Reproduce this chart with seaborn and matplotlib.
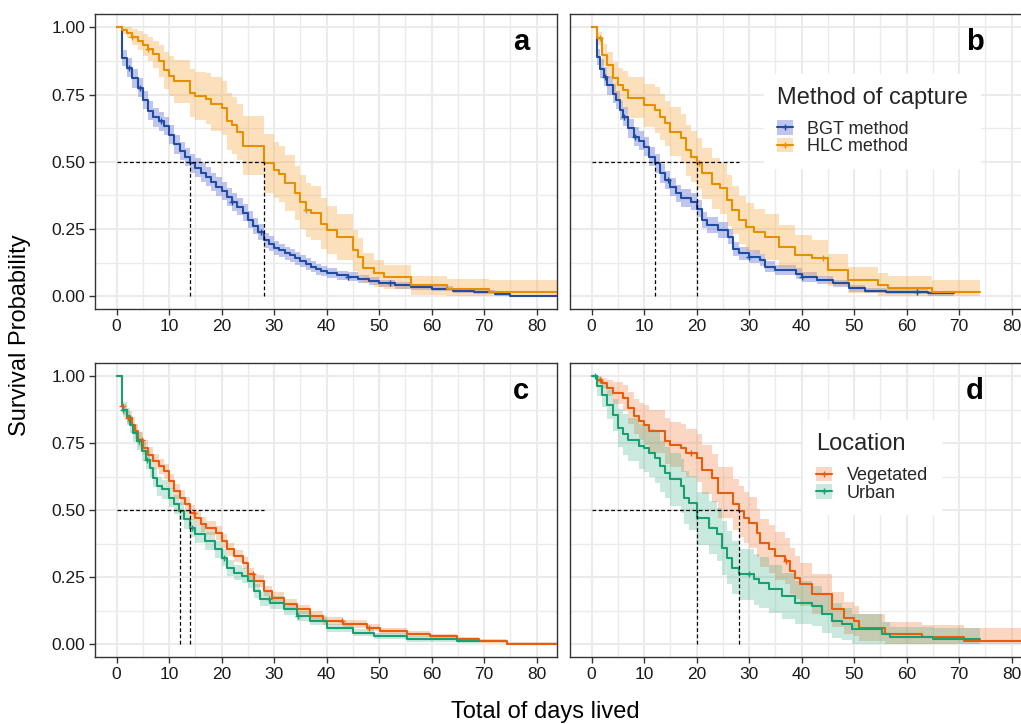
import numpy as np
import pandas as pd
import matplotlib
matplotlib.use('Agg')
import matplotlib.pyplot as plt
import seaborn as sns
from matplotlib.patches import Patch
from matplotlib.lines import Line2D
from matplotlib.legend_handler import HandlerTuple
from matplotlib.ticker import MultipleLocator, FormatStrFormatter

# ---- data (Kaplan-Meier steps) ----
# panel a : method of capture (first set)
bgt_a_t = [0, 1, 2, 3, 4, 5, 6, 7, 8, 9, 10, 11, 12, 13, 14, 15, 16, 17, 18, 19, 20,
           21, 22, 23, 24, 25, 26, 27, 28, 29, 30, 31, 32, 33, 34, 35, 36, 37, 38, 39,
           40, 42, 44, 46, 48, 50, 53, 56, 60, 64, 68, 72, 75]
bgt_a_s = [1.0, 0.885, 0.85, 0.81, 0.775, 0.73, 0.69, 0.665, 0.65, 0.633, 0.60, 0.565,
           0.54, 0.518, 0.494, 0.478, 0.46, 0.445, 0.425, 0.407, 0.39, 0.37, 0.35, 0.333,
           0.31, 0.285, 0.262, 0.24, 0.208, 0.195, 0.18, 0.17, 0.16, 0.152, 0.14, 0.13,
           0.12, 0.11, 0.10, 0.092, 0.086, 0.078, 0.072, 0.064, 0.056, 0.048, 0.04, 0.034,
           0.028, 0.02, 0.014, 0.008, 0.0]
bgt_a_hw = [0.0, 0.03, 0.035, 0.035, 0.035, 0.035, 0.035, 0.035, 0.035, 0.035, 0.035,
            0.035, 0.035, 0.035, 0.035, 0.035, 0.035, 0.035, 0.035, 0.035, 0.033, 0.033,
            0.033, 0.032, 0.032, 0.031, 0.03, 0.03, 0.028, 0.027, 0.026, 0.025, 0.024,
            0.024, 0.023, 0.022, 0.021, 0.02, 0.02, 0.019, 0.018, 0.017, 0.016, 0.015,
            0.014, 0.013, 0.012, 0.011, 0.01, 0.009, 0.008, 0.007, 0.005]
hlc_a_t = [0, 1, 2, 3, 4, 5, 6, 7, 8, 9, 10, 11, 14, 15, 17, 18, 20, 21, 22, 23, 24, 28,
           30, 31, 32, 34, 35, 36, 37, 39, 40, 42, 45, 46, 47, 49, 51, 56, 63, 71]
hlc_a_s = [1.0, 0.99, 0.98, 0.965, 0.95, 0.935, 0.92, 0.9, 0.875, 0.84, 0.82, 0.80, 0.755,
           0.745, 0.735, 0.715, 0.70, 0.65, 0.635, 0.61, 0.56, 0.495, 0.47, 0.455, 0.42,
           0.385, 0.35, 0.32, 0.31, 0.27, 0.245, 0.22, 0.17, 0.145, 0.105, 0.085, 0.07,
           0.04, 0.028, 0.016]
hlc_a_hw = [0.0, 0.015, 0.02, 0.03, 0.035, 0.04, 0.045, 0.05, 0.06, 0.07, 0.075, 0.08,
            0.09, 0.09, 0.095, 0.1, 0.1, 0.105, 0.105, 0.105, 0.11, 0.11, 0.105, 0.105,
            0.105, 0.1, 0.1, 0.1, 0.1, 0.095, 0.09, 0.085, 0.075, 0.07, 0.055, 0.05,
            0.045, 0.035, 0.035, 0.045]

# panel b : method of capture (second set)
bgt_b_t = [0, 1, 1.6, 2.4, 3, 4, 4.6, 5.4, 6, 7, 8, 9, 10, 11, 12, 13, 14, 15, 16, 17,
           19, 20, 21, 22, 24, 26, 27, 28, 30, 32, 33, 35, 39, 40, 43, 46, 49, 52, 56, 64]
bgt_b_s = [1.0, 0.891, 0.847, 0.816, 0.785, 0.754, 0.73, 0.692, 0.667, 0.624, 0.593,
           0.578, 0.556, 0.519, 0.494, 0.457, 0.432, 0.407, 0.382, 0.364, 0.351, 0.326,
           0.283, 0.264, 0.246, 0.221, 0.177, 0.159, 0.146, 0.134, 0.109, 0.097, 0.084,
           0.072, 0.06, 0.047, 0.029, 0.02, 0.016, 0.01]
bgt_b_hw = [0.0, 0.03, 0.035, 0.035, 0.035, 0.035, 0.035, 0.035, 0.035, 0.035, 0.035,
            0.035, 0.035, 0.035, 0.035, 0.035, 0.034, 0.034, 0.033, 0.033, 0.032, 0.031,
            0.03, 0.03, 0.029, 0.028, 0.026, 0.025, 0.024, 0.023, 0.021, 0.02, 0.019,
            0.018, 0.016, 0.014, 0.012, 0.01, 0.009, 0.008]
hlc_b_t = [0, 1, 2, 3, 4, 5, 6, 7, 10, 12, 13, 14, 15, 17, 18, 19, 20, 21, 23, 24.4,
           25.7, 26.7, 28, 29.5, 31, 33, 35.6, 38.7, 41.9, 45, 48.9, 54.6, 56.5, 64.8]
hlc_b_s = [1.0, 0.959, 0.897, 0.86, 0.81, 0.785, 0.767, 0.739, 0.711, 0.692, 0.667,
           0.643, 0.612, 0.587, 0.543, 0.519, 0.494, 0.457, 0.419, 0.401, 0.357, 0.32,
           0.283, 0.258, 0.24, 0.221, 0.184, 0.153, 0.14, 0.097, 0.06, 0.041, 0.029, 0.016]
hlc_b_hw = [0.0, 0.025, 0.04, 0.05, 0.06, 0.065, 0.07, 0.075, 0.08, 0.085, 0.085, 0.085,
            0.09, 0.09, 0.095, 0.095, 0.095, 0.095, 0.095, 0.095, 0.095, 0.09, 0.09,
            0.09, 0.085, 0.085, 0.08, 0.075, 0.07, 0.06, 0.05, 0.045, 0.045, 0.045]

# panel c : location (first set)
veg_c_t = [0, 1, 1.3, 2, 3, 3.5, 4, 5, 6, 7, 8, 9, 10, 11, 12, 13, 14, 15, 16, 17, 19,
           20, 21, 22.3, 24, 25.1, 26.1, 28, 29.6, 31.8, 34.3, 36.9, 39.4, 43.2, 47.7,
           50.2, 55.3, 59.7, 64.8, 69, 74.3]
veg_c_s = [1.0, 0.888, 0.876, 0.845, 0.82, 0.795, 0.764, 0.733, 0.708, 0.683, 0.665,
           0.646, 0.609, 0.571, 0.547, 0.522, 0.491, 0.472, 0.447, 0.435, 0.416, 0.385,
           0.354, 0.329, 0.304, 0.262, 0.236, 0.199, 0.174, 0.149, 0.13, 0.106, 0.087,
           0.075, 0.062, 0.05, 0.037, 0.029, 0.019, 0.012, 0.002]
veg_c_hw = [0.0, 0.02, 0.022, 0.025, 0.027, 0.028, 0.028, 0.028, 0.028, 0.028, 0.028,
            0.028, 0.028, 0.028, 0.028, 0.028, 0.028, 0.027, 0.027, 0.026, 0.026, 0.025,
            0.025, 0.024, 0.023, 0.022, 0.021, 0.02, 0.019, 0.018, 0.017, 0.016, 0.015,
            0.014, 0.013, 0.012, 0.011, 0.01, 0.009, 0.008, 0.006]
urb_c_t = [0, 1, 1.3, 2, 2.6, 3.2, 3.9, 4.8, 5.5, 6.4, 7, 7.7, 8.6, 9.9, 10.9, 11.8,
           12.8, 13.9, 15, 16.9, 18.8, 20, 21, 22.3, 23.9, 25.1, 26.1, 27.4, 29.3, 31.8,
           34.3, 36.9, 40, 45.1, 49, 55.3, 64.8]
urb_c_s = [1.0, 0.894, 0.876, 0.851, 0.82, 0.789, 0.758, 0.72, 0.689, 0.658, 0.621,
           0.59, 0.578, 0.547, 0.522, 0.497, 0.466, 0.435, 0.41, 0.385, 0.354, 0.323,
           0.286, 0.267, 0.255, 0.236, 0.199, 0.168, 0.155, 0.13, 0.106, 0.087, 0.062,
           0.043, 0.031, 0.019, 0.012]
urb_c_hw = [0.0, 0.025, 0.027, 0.03, 0.032, 0.033, 0.034, 0.035, 0.035, 0.035, 0.035,
            0.035, 0.035, 0.035, 0.035, 0.035, 0.035, 0.034, 0.034, 0.033, 0.032, 0.031,
            0.03, 0.029, 0.028, 0.027, 0.026, 0.025, 0.023, 0.021, 0.019, 0.017, 0.015,
            0.013, 0.011, 0.01, 0.008]

# panel d : location (second set)
veg_d_t = [0, 1, 2, 3, 4, 6, 7, 8, 9, 10, 11, 14, 15, 17, 18, 20, 21, 23, 24, 27, 28,
           29, 30, 31.5, 32.1, 33.7, 35, 36.9, 37.8, 38.8, 39.7, 42, 45.8, 48, 49.9, 50.9,
           55.9, 62.9, 70.9]
veg_d_s = [1.0, 0.988, 0.975, 0.957, 0.938, 0.919, 0.882, 0.851, 0.832, 0.82, 0.795,
           0.758, 0.745, 0.733, 0.714, 0.696, 0.652, 0.621, 0.565, 0.522, 0.497, 0.472,
           0.453, 0.416, 0.379, 0.354, 0.329, 0.311, 0.273, 0.248, 0.224, 0.186, 0.13,
           0.099, 0.087, 0.062, 0.037, 0.025, 0.012]
veg_d_hw = [0.0, 0.012, 0.02, 0.03, 0.04, 0.05, 0.06, 0.065, 0.07, 0.075, 0.08, 0.085,
            0.085, 0.09, 0.09, 0.09, 0.09, 0.09, 0.095, 0.095, 0.095, 0.095, 0.095, 0.09,
            0.09, 0.09, 0.09, 0.085, 0.085, 0.08, 0.08, 0.075, 0.065, 0.06, 0.055, 0.05,
            0.045, 0.045, 0.05]
urb_d_t = [0, 1, 2, 3, 4, 5, 6, 7, 9, 10, 11, 12, 13, 14, 15, 17, 17.5, 18.5, 20, 22.3,
           23.9, 24.8, 25.8, 26.7, 28, 30.9, 31.8, 33.7, 36.3, 38.8, 42, 43.9, 45.8, 47.7,
           49.6, 55.3, 56.9, 65.1]
urb_d_s = [1.0, 0.963, 0.932, 0.894, 0.857, 0.807, 0.783, 0.764, 0.739, 0.733, 0.714,
           0.696, 0.665, 0.64, 0.615, 0.59, 0.547, 0.528, 0.47, 0.435, 0.41, 0.36, 0.323,
           0.286, 0.261, 0.242, 0.23, 0.205, 0.18, 0.155, 0.143, 0.112, 0.087, 0.075,
           0.056, 0.037, 0.025, 0.019]
urb_d_hw = [0.0, 0.035, 0.045, 0.055, 0.06, 0.07, 0.075, 0.08, 0.085, 0.09, 0.09, 0.095,
            0.095, 0.095, 0.1, 0.1, 0.1, 0.1, 0.1, 0.1, 0.1, 0.1, 0.1, 0.1, 0.095, 0.095,
            0.095, 0.09, 0.085, 0.08, 0.075, 0.07, 0.065, 0.06, 0.055, 0.045, 0.04, 0.04]

# last time each curve is drawn to (end of follow-up / panel edge)
end_a = [86, 86]
end_b = [69, 74]
end_c = [86, 69]
end_d = [86, 74]

# median survival times (dashed guides) and where horizontal guide stops
med_a = [14, 28]
med_b = [12, 20]
med_c = [12, 14]
med_d = [20, 28]
guide_end = 28

# censor marks (times)
cens_bgt_a = [2.4, 4.5, 8.5, 22, 27.5, 44, 52]
cens_hlc_a = [3, 6, 36]
cens_bgt_b = [2.5, 6.2, 8.2, 14.5, 30, 40, 62]
cens_hlc_b = [1.5, 20.5, 44]
cens_veg_c = [1.0, 2.2, 4.8, 14.7, 26, 43, 48]
cens_urb_c = [1.3, 4.3, 5.7, 14.3, 20.5, 29, 34.5]
cens_veg_d = [1.5, 19, 37]
cens_urb_d = [0.6, 30]

method_labels = ['BGT method', 'HLC method']
location_labels = ['Vegetated', 'Urban']
panel_letters = ['a', 'b', 'c', 'd']

col_bgt, fill_bgt = '#1f4ea0', '#6070d8'
col_hlc, fill_hlc = '#e69000', '#f8a840'
col_veg, fill_veg = '#e85d0c', '#f27a35'
col_urb, fill_urb = '#17a070', '#2aaa7c'

sns.set_theme(style='white')
plt.rcParams['font.family'] = ['Liberation Sans', 'DejaVu Sans']

fig = plt.figure(figsize=(10.21, 7.24), dpi=100)
W, H = 1021, 724


def ax_at(x0, y0, x1, y1):
    return fig.add_axes([x0 / W, 1 - y1 / H, (x1 - x0) / W, (y1 - y0) / H])


axes = [ax_at(95, 14, 557, 309), ax_at(570, 14, 1032, 309),
        ax_at(95, 363, 557, 657), ax_at(570, 363, 1032, 657)]


def km_curve(ax, t, s, hw, t_end, cens, line, fill, alpha):
    t = list(t) + [t_end]
    s = list(s) + [s[-1]]
    hw = list(hw) + [hw[-1]]
    df = pd.DataFrame({'time': t, 'surv': s})
    df['lower'] = np.clip(df['surv'] - np.array(hw), 0, 1)
    df['upper'] = np.clip(df['surv'] + np.array(hw), 0, 1)
    ax.fill_between(df['time'], df['lower'], df['upper'], step='post',
                    color=fill, alpha=alpha, linewidth=0, zorder=2)
    sns.lineplot(data=df, x='time', y='surv', drawstyle='steps-post', color=line,
                 linewidth=1.5, ax=ax, zorder=3, estimator=None)
    idx = np.searchsorted(df['time'].values, cens, side='right') - 1
    ax.plot(cens, df['surv'].values[idx], linestyle='none', marker='+',
            markersize=5, markeredgewidth=1.0, color=line, zorder=4)


def style(ax, show_y):
    ax.set_xlim(-4.13, 83.9)
    ax.set_ylim(-0.048, 1.05)
    ax.xaxis.set_major_locator(MultipleLocator(10))
    ax.xaxis.set_minor_locator(MultipleLocator(5))
    ax.yaxis.set_major_locator(MultipleLocator(0.25))
    ax.yaxis.set_minor_locator(MultipleLocator(0.125))
    ax.yaxis.set_major_formatter(FormatStrFormatter('%.2f'))
    ax.grid(which='major', color='#ebebeb', linewidth=1.5, zorder=0)
    ax.grid(which='minor', color='#ebebeb', linewidth=1.0, zorder=0)
    ax.set_axisbelow(True)
    ax.tick_params(which='major', length=4, width=1, color='#333333',
                   labelsize=12.5, labelcolor='#1a1a1a', pad=3,
                   bottom=True, left=show_y, labelleft=show_y)
    ax.tick_params(which='minor', length=0)
    for sp in ax.spines.values():
        sp.set_color('#333333')
        sp.set_linewidth(1.0)
    ax.set_xlabel('')
    ax.set_ylabel('')
    ax.set_facecolor('white')


def guides(ax, meds):
    ax.plot([0, guide_end], [0.5, 0.5], color='black', linestyle=(0, (3, 2)),
            linewidth=0.9, zorder=5)
    for m in meds:
        ax.plot([m, m], [0, 0.5], color='black', linestyle=(0, (3, 2)),
                linewidth=0.9, zorder=5)


# a
km_curve(axes[0], bgt_a_t, bgt_a_s, bgt_a_hw, end_a[0], cens_bgt_a, col_bgt, fill_bgt, 0.4)
km_curve(axes[0], hlc_a_t, hlc_a_s, hlc_a_hw, end_a[1], cens_hlc_a, col_hlc, fill_hlc, 0.35)
guides(axes[0], med_a)
# b
km_curve(axes[1], bgt_b_t, bgt_b_s, bgt_b_hw, end_b[0], cens_bgt_b, col_bgt, fill_bgt, 0.4)
km_curve(axes[1], hlc_b_t, hlc_b_s, hlc_b_hw, end_b[1], cens_hlc_b, col_hlc, fill_hlc, 0.35)
guides(axes[1], med_b)
# c
km_curve(axes[2], veg_c_t, veg_c_s, veg_c_hw, end_c[0], cens_veg_c, col_veg, fill_veg, 0.3)
km_curve(axes[2], urb_c_t, urb_c_s, urb_c_hw, end_c[1], cens_urb_c, col_urb, fill_urb, 0.25)
guides(axes[2], med_c)
# d
km_curve(axes[3], veg_d_t, veg_d_s, veg_d_hw, end_d[0], cens_veg_d, col_veg, fill_veg, 0.3)
km_curve(axes[3], urb_d_t, urb_d_s, urb_d_hw, end_d[1], cens_urb_d, col_urb, fill_urb, 0.25)
guides(axes[3], med_d)

letter_x = [77, 73, 77, 73]
for i, (ax, letter, lx) in enumerate(zip(axes, panel_letters, letter_x)):
    style(ax, show_y=(i % 2 == 0))
    ax.text(lx, 0.945, letter, fontsize=21, fontweight='bold', ha='center',
            va='center', color='black', zorder=6)


def legend_handles(cols, fills, alphas):
    hs = []
    for c, f, a in zip(cols, fills, alphas):
        hs.append((Patch(facecolor=f, alpha=a, edgecolor='none'),
                   Line2D([], [], color=c, linewidth=1.5, marker='+',
                          markersize=5, markeredgewidth=1.0)))
    return hs


for ax, title, labels, cols, fills, alphas, anchor in [
        (axes[1], 'Method of capture', method_labels, [col_bgt, col_hlc],
         [fill_bgt, fill_hlc], [0.4, 0.35], (0.42, 0.797)),
        (axes[3], 'Location', location_labels, [col_veg, col_urb],
         [fill_veg, fill_urb], [0.3, 0.25], (0.505, 0.805))]:
    leg = ax.legend(legend_handles(cols, fills, alphas), labels, title=title,
                    loc='upper left', bbox_to_anchor=anchor, frameon=True,
                    fancybox=False, edgecolor='white', facecolor='white',
                    framealpha=1.0, fontsize=13, title_fontsize=17,
                    handler_map={tuple: HandlerTuple(ndivide=1)},
                    handlelength=0.9, handleheight=0.85, handletextpad=0.8,
                    labelspacing=0.0, borderpad=0.7, borderaxespad=0)
    leg._legend_box.align = 'left'
    leg._legend_box.sep = 8.5
    leg.set_zorder(7)

fig.text(20 / W, 1 - 335 / H, 'Survival Probability', rotation=90, ha='center',
         va='center', fontsize=17, color='black')
fig.text(545 / W, 1 - 712 / H, 'Total of days lived', ha='center', va='center',
         fontsize=17, color='black')

fig.savefig('out.png', dpi=100)
